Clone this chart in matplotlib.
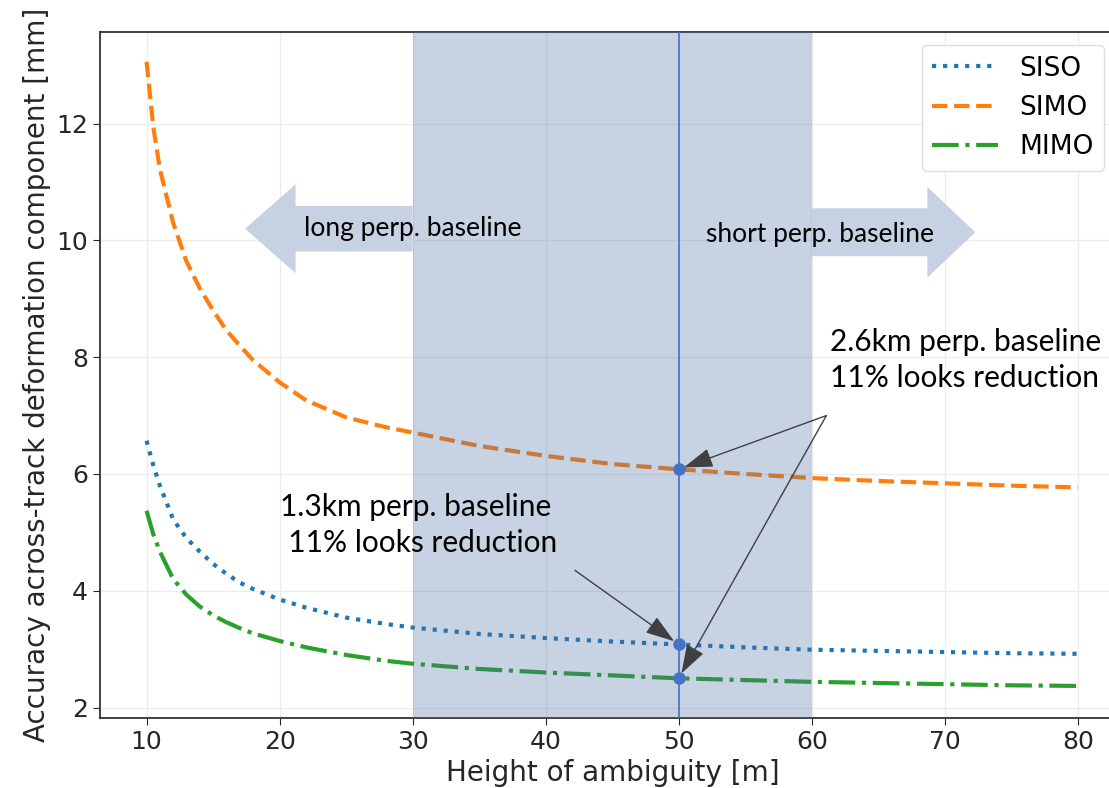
import matplotlib.pyplot as plt
from matplotlib.patches import FancyArrow

# height of ambiguity [m]
hoa = [10, 10.5, 11, 12, 13, 14, 15, 16, 17, 18, 20, 22, 25, 28, 30,
       35, 40, 45, 50, 55, 60, 65, 70, 75, 80]
siso = [6.57, 6.15, 5.80, 5.22, 4.90, 4.67, 4.46, 4.29, 4.14, 4.03, 3.85,
        3.71, 3.54, 3.43, 3.37, 3.26, 3.19, 3.13, 3.08, 3.03, 2.99, 2.97,
        2.95, 2.93, 2.92]
simo = [13.06, 11.95, 11.22, 10.30, 9.64, 9.18, 8.80, 8.46, 8.20, 7.95, 7.57,
        7.26, 6.97, 6.80, 6.71, 6.48, 6.31, 6.17, 6.08, 6.00, 5.93, 5.88,
        5.84, 5.80, 5.77]
mimo = [5.37, 4.97, 4.67, 4.20, 3.93, 3.73, 3.58, 3.46, 3.36, 3.27, 3.14,
        3.03, 2.90, 2.80, 2.75, 2.66, 2.60, 2.55, 2.50, 2.47, 2.44, 2.42,
        2.40, 2.38, 2.37]

span = (30, 60)
x_sel = 50
i_sel = hoa.index(x_sel)

note_font = 'Lato'
office_blue = '#4472C4'
arrow_grey = '#404040'
block_col = '#C6D1E3'
txt_col = '#262626'

fig = plt.figure(figsize=(11.09, 7.88), dpi=100)
ax = fig.add_axes([0.0902, 0.0888, 0.9242, 0.8706])

ax.plot(hoa, siso, ':', c='tab:blue', lw=3, label='SISO', zorder=2)
ax.plot(hoa, simo, '--', c='tab:orange', lw=3, label='SIMO', zorder=2)
ax.plot(hoa, mimo, '-.', c='tab:green', lw=3, label='MIMO', zorder=2)

# big block arrows
ax.add_patch(FancyArrow(30, 10.2, -12.6, 0, width=0.78, head_width=1.52,
                        head_length=3.8, length_includes_head=True,
                        fc=block_col, ec='none', zorder=1))
ax.add_patch(FancyArrow(60, 10.14, 12.3, 0, width=0.82, head_width=1.55,
                        head_length=3.6, length_includes_head=True,
                        fc=block_col, ec='none', zorder=1))

ax.axvspan(*span, color='#486CA2', alpha=0.3, lw=0, zorder=3)
ax.axvline(x_sel, color=office_blue, lw=1.2, zorder=4)
for ys in (simo, siso, mimo):
    ax.plot(x_sel, ys[i_sel], 'o', c=office_blue, ms=8, zorder=6)

ax.text(30.0, 10.2, 'long perp. baseline', family=note_font, fontsize=19,
        ha='center', va='center', zorder=5)
ax.text(60.6, 10.1, 'short perp. baseline', family=note_font, fontsize=19,
        ha='center', va='center', zorder=5)

ax.text(61.4, 7.95, '2.6km perp. baseline\n11% looks reduction',
        family=note_font, fontsize=21.5, ha='left', va='center',
        linespacing=1.35, zorder=5)
ax.text(30.2, 5.12, '1.3km perp. baseline\n  11% looks reduction',
        family=note_font, fontsize=21.5, ha='center', va='center',
        linespacing=1.35, zorder=5)

aprops = dict(arrowstyle='-|>,head_length=0.9,head_width=0.3',
              color=arrow_grey, lw=1, shrinkA=0, shrinkB=4,
              mutation_scale=20)
ax.annotate('', xy=(x_sel, simo[i_sel]), xytext=(61.1, 7.0),
            arrowprops=aprops, zorder=5)
ax.annotate('', xy=(x_sel, mimo[i_sel]), xytext=(61.1, 7.0),
            arrowprops=aprops, zorder=5)
ax.annotate('', xy=(x_sel, siso[i_sel]), xytext=(42.2, 4.35),
            arrowprops=aprops, zorder=5)

ax.set_xlim(6.5, 83.55)
ax.set_ylim(1.82, 13.57)
ax.set_xticks(range(10, 90, 10))
ax.set_yticks(range(2, 14, 2))
ax.grid(True, color='#ececec', lw=1, zorder=0)
ax.set_axisbelow(True)
ax.tick_params(labelsize=18, colors=txt_col, length=5)
for s in ax.spines.values():
    s.set_color('#333333')
    s.set_linewidth(1.3)
ax.set_xlabel('Height of ambiguity [m]', fontsize=20, color=txt_col)
ax.set_ylabel('Accuracy across-track deformation component [mm]',
              fontsize=20, color=txt_col)

ax.legend(loc='upper right', bbox_to_anchor=(0.98, 0.981), borderaxespad=0,
          fontsize=19, handlelength=2.5, labelspacing=0.5, framealpha=1,
          edgecolor='#dddddd')

fig.savefig('out.png', dpi=100)
